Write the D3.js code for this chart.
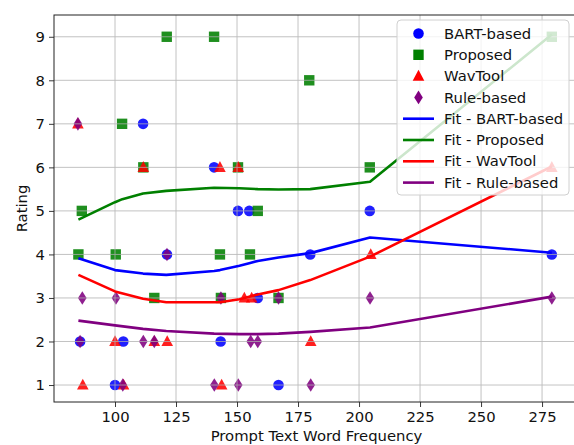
<!DOCTYPE html>
<html lang="en">
<head>
<meta charset="UTF-8">
<title>Rating vs Prompt Text Word Frequency</title>
<style>
  body { margin: 0; background: #fff; }
  svg text { font-family: "DejaVu Sans", sans-serif; }
</style>
</head>
<body>
<svg id="svg" width="574" height="445"></svg>
<script src="https://d3js.org/d3.v7.min.js"></script>
<script>
// scatter points: [word frequency, rating]
const bartPts = [[85.7,2],[100,1],[103.4,2],[111.5,7],[121.3,4],[140.6,6],[143.3,2],[150.4,5],[155,5],[158.5,3],[167,1],[180,4],[204.4,5],[279,4]]
const proposedPts = [[85,4],[86.4,5],[100.3,4],[102.9,7],[111.6,6],[116.1,3],[121.2,9],[140.6,9],[143,4],[143.4,3],[150.4,6],[155.3,4],[158.5,5],[167,3],[179.6,8],[204.4,6],[279,9]]
const wavtoolPts = [[84.8,7],[86.8,1],[100,2],[103.5,1],[111.6,6],[116.1,2],[121.4,2],[143,6],[143.7,1],[150.5,6],[153,3],[156,3],[180.2,2],[204.8,4],[279,6]]
const rulePts = [[84.8,7],[85.7,2],[86.6,3],[100.4,3],[103.2,1],[111.6,2],[116.1,2],[121.3,4],[140.7,1],[143.4,3],[150.5,1],[155.6,2],[158.5,2],[167,3],[180.2,1],[204.5,3],[279,3]]

// fitted curves
const bartFitX = [85,100,111.5,121,140.6,143,151,155,158.5,167,180,204.5,279]
const bartFitY = [3.91,3.64,3.56,3.53,3.62,3.64,3.74,3.8,3.85,3.93,4.03,4.39,4.04]
const proposedFitX = [85,100,103,111.5,121,140.6,151,158.5,167,180,204.5,279]
const proposedFitY = [4.8,5.2,5.27,5.4,5.46,5.53,5.52,5.5,5.49,5.5,5.67,9.05]
const wavtoolFitX = [85,100,111.5,121,140.6,143,151,155,158.5,167,180,204.5,279]
const wavtoolFitY = [3.53,3.15,2.98,2.9,2.9,2.9,2.97,3.03,3.08,3.18,3.41,3.95,6.02]
const ruleFitX = [85,100,111.5,121,140.6,151,158.5,167,180,204.5,279]
const ruleFitY = [2.48,2.37,2.29,2.24,2.18,2.17,2.17,2.18,2.22,2.32,3.03]

const xTicks = [100,125,150,175,200,225,250,275]
const yTicks = [1,2,3,4,5,6,7,8,9]

const series = [
  { name: "BART-based", color: "#0000ff", shape: "circle", pts: bartPts, fx: bartFitX, fy: bartFitY },
  { name: "Proposed", color: "#008000", shape: "square", pts: proposedPts, fx: proposedFitX, fy: proposedFitY },
  { name: "WavTool", color: "#ff0000", shape: "triangle", pts: wavtoolPts, fx: wavtoolFitX, fy: wavtoolFitY },
  { name: "Rule-based", color: "#800080", shape: "diamond", pts: rulePts, fx: ruleFitX, fy: ruleFitY }
]

const plot = { left: 54, right: 575, top: 15, bottom: 402 }
const fontSize = 14.8
const svg = d3.select("#svg")

const xScale = d3.scaleLinear().domain([75, 288.5]).range([plot.left, plot.right])
const yScale = d3.scaleLinear().domain([0.61, 9.5]).range([plot.bottom, plot.top])

// marker paths, centred at 0,0
function markerPath(shape) {
  if (shape === "circle") return "M5.3,0A5.3,5.3 0 1,1 -5.3,0A5.3,5.3 0 1,1 5.3,0Z"
  if (shape === "square") return "M-5.2,-5.2H5.2V5.2H-5.2Z"
  if (shape === "triangle") return "M0,-6.3L5.8,4.6H-5.8Z"
  return "M0,-6.8L4.3,0L0,6.8L-4.3,0Z"
}

// markers (drawn first, grid sits on top like matplotlib)
series.forEach(s => {
  svg.append("g").selectAll("path").data(s.pts).enter().append("path")
    .attr("d", markerPath(s.shape))
    .attr("transform", d => `translate(${xScale(d[0])},${yScale(d[1])})`)
    .attr("fill", s.color)
    .attr("fill-opacity", 0.88)
})

// grid
const grid = svg.append("g").attr("stroke", "#b0b0b0").attr("stroke-width", 0.9).attr("opacity", 0.85)
grid.selectAll("line.gx").data(xTicks).enter().append("line")
  .attr("x1", d => xScale(d)).attr("x2", d => xScale(d)).attr("y1", plot.top).attr("y2", plot.bottom)
grid.selectAll("line.gy").data(yTicks).enter().append("line")
  .attr("y1", d => yScale(d)).attr("y2", d => yScale(d)).attr("x1", plot.left).attr("x2", plot.right)

// fit lines
const line = d3.line().x(d => xScale(d[0])).y(d => yScale(d[1]))
series.forEach(s => {
  svg.append("path")
    .attr("d", line(s.fx.map((x, i) => [x, s.fy[i]])))
    .attr("fill", "none")
    .attr("stroke", s.color)
    .attr("stroke-width", 2.6)
    .attr("stroke-linejoin", "round")
})

// axes
const xAxis = d3.axisBottom(xScale).tickValues(xTicks).tickSize(5).tickSizeOuter(0).tickPadding(4)
const yAxis = d3.axisLeft(yScale).tickValues(yTicks).tickSize(5).tickSizeOuter(0).tickPadding(4)
const gx = svg.append("g").attr("transform", `translate(0,${plot.bottom})`).call(xAxis)
const gy = svg.append("g").attr("transform", `translate(${plot.left},0)`).call(yAxis)
gx.select(".domain").remove()
gy.select(".domain").remove()
svg.selectAll(".tick text").attr("font-size", fontSize).attr("fill", "#111").attr("font-family", "DejaVu Sans")
svg.selectAll(".tick line").attr("stroke", "#222").attr("stroke-width", 0.9)

// frame
svg.append("rect").attr("x", plot.left).attr("y", plot.top)
  .attr("width", plot.right - plot.left).attr("height", plot.bottom - plot.top)
  .attr("fill", "none").attr("stroke", "#222").attr("stroke-width", 1)

// axis labels
svg.append("text").attr("x", (plot.left + plot.right) / 2 + 2).attr("y", 441).attr("text-anchor", "middle")
  .attr("font-size", fontSize).attr("fill", "#111").text("Prompt Text Word Frequency")
svg.append("text").attr("transform", `translate(27,${(plot.top + plot.bottom) / 2}) rotate(-90)`)
  .attr("text-anchor", "middle").attr("font-size", fontSize).attr("fill", "#111").text("Rating")

// legend
const lg = svg.append("g")
lg.append("rect").attr("x", 397).attr("y", 20).attr("width", 172).attr("height", 175).attr("rx", 4)
  .attr("fill", "#fff").attr("fill-opacity", 0.8).attr("stroke", "#d0d0d0").attr("stroke-width", 1)
const rowY = i => 33.5 + i * 21.3
series.forEach((s, i) => {
  lg.append("path").attr("d", markerPath(s.shape)).attr("transform", `translate(418.5,${rowY(i)})`).attr("fill", s.color)
  lg.append("text").attr("x", 444).attr("y", rowY(i)).attr("dy", "0.35em").attr("font-size", fontSize).attr("fill", "#111").text(s.name)
})
series.forEach((s, i) => {
  const y = rowY(i + 4)
  lg.append("line").attr("x1", 403).attr("x2", 434).attr("y1", y).attr("y2", y).attr("stroke", s.color).attr("stroke-width", 2.6)
  lg.append("text").attr("x", 444).attr("y", y).attr("dy", "0.35em").attr("font-size", fontSize).attr("fill", "#111").text("Fit - " + s.name)
})
</script>
</body>
</html>
